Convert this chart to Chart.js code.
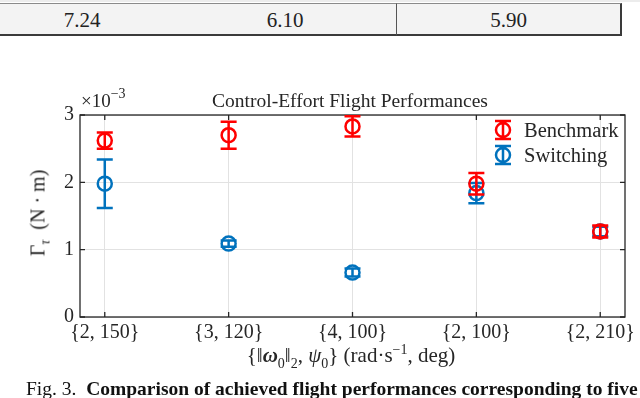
<!DOCTYPE html>
<html>
<head>
<meta charset="utf-8">
<script src="https://cdn.jsdelivr.net/npm/chart.js@4"></script>
<style>
  body { margin: 0; width: 640px; height: 398px; position: relative; overflow: hidden; background: #fff; }
  .Serif { font-family: "Liberation Serif", "DejaVu Serif", serif; color: #262626; position: absolute; white-space: nowrap; }
  .Cell { position: absolute; top: 3px; height: 30px; background: #f3f3f3; border-top: 1px solid #8a8a8a; border-bottom: 2px solid #3a3a3a; box-sizing: content-box; font-family: "Liberation Serif", serif; font-size: 21px; color: #222; text-align: center; line-height: 32px; }
  #Caption { left: 26px; top: 378px; font-size: 19.5px; color: #111; font-family: "Liberation Serif", serif; }
</style>
</head>
<body>
<div style="position:absolute;left:0;top:0;width:640px;height:2px;background:#ececec"></div>
<div class="Cell" style="left:-10px;width:184px;border-right:1px solid #555">7.24</div>
<div class="Cell" style="left:174px;width:222px;border-right:1px solid #555">6.10</div>
<div class="Cell" style="left:397px;width:223px;border-right:2px solid #3a3a3a">5.90</div>

<canvas id="PerfChart" width="640" height="398" style="position:absolute;left:0;top:0"></canvas>

<div class="Serif" style="left:350px;top:101px;font-size:19.5px;transform:translate(-50%,-50%);">Control-Effort Flight Performances</div>
<div class="Serif" style="left:81px;top:88px;font-size:19px;">×10<sup style="font-size:14px;position:relative;top:-2px">−3</sup></div>
<div class="Serif" style="left:40px;top:213px;font-size:20px;transform:translate(-50%,-50%) rotate(-90deg);">Γ<sub style="font-size:14px;font-style:italic">τ</sub>&nbsp; (N · m)</div>
<div class="Serif" style="left:351px;top:357px;font-size:21px;transform:translate(-50%,-50%);">{‖<b><i>ω</i></b><sub style="font-size:14px">0</sub>‖<sub style="font-size:14px">2</sub>, <i>ψ</i><sub style="font-size:14px">0</sub>} (rad·s<sup style="font-size:14px">−1</sup>, deg)</div>
<div class="Serif" style="left:524px;top:130px;font-size:20.5px;transform:translateY(-50%);">Benchmark</div>
<div class="Serif" style="left:524px;top:155px;font-size:20.5px;transform:translateY(-50%);">Switching</div>

<div id="Caption" class="Serif">Fig. 3.&nbsp; <b>Comparison of achieved flight performances corresponding to five</b></div>

<script>
const caseLabels = ["{2, 150}", "{3, 120}", "{4, 100}", "{2, 100}", "{2, 210}"];
const casePositions = [0, 1, 2, 3, 4];
const yTicks = [0, 1, 2, 3];

const benchmarkValues = [2.62, 2.70, 2.83, 1.98, 1.27];
const benchmarkErrors = [0.12, 0.20, 0.15, 0.16, 0.09];
const switchingValues = [1.98, 1.09, 0.66, 1.84, 1.27];
const switchingErrors = [0.36, 0.045, 0.06, 0.15, 0.07];

const benchmarkColor = "#ff0000";
const switchingColor = "#0072bd";
const axisColor = "#262626";

function toPoints(values) {
  return values.map((value, index) => ({ x: casePositions[index], y: value }));
}

const errorBars = {
  id: "errorBars",
  afterDatasetDraw(chart, args) {
    const dataset = chart.data.datasets[args.index];
    const { ctx } = chart;
    const xScale = chart.scales.x;
    const yScale = chart.scales.y;
    ctx.save();
    ctx.strokeStyle = dataset.borderColor;
    ctx.lineWidth = 2.5;
    dataset.data.forEach((point, index) => {
      const err = dataset.errors[index];
      const px = xScale.getPixelForValue(point.x);
      const top = yScale.getPixelForValue(point.y + err);
      const bottom = yScale.getPixelForValue(point.y - err);
      ctx.beginPath();
      ctx.moveTo(px, top);
      ctx.lineTo(px, bottom);
      ctx.moveTo(px - 8, top);
      ctx.lineTo(px + 8, top);
      ctx.moveTo(px - 8, bottom);
      ctx.lineTo(px + 8, bottom);
      ctx.stroke();
    });
    ctx.restore();
  },
};

// matlab style box with inward ticks
const axesBox = {
  id: "axesBox",
  beforeDatasetsDraw(chart) {
    const { ctx, chartArea } = chart;
    const { left, right, top, bottom } = chartArea;
    ctx.save();
    ctx.strokeStyle = axisColor;
    ctx.lineWidth = 1.3;
    ctx.strokeRect(left, top, right - left, bottom - top);
    ctx.beginPath();
    chart.scales.x.ticks.forEach((tick) => {
      const px = chart.scales.x.getPixelForValue(tick.value);
      ctx.moveTo(px, bottom);
      ctx.lineTo(px, bottom - 5);
      ctx.moveTo(px, top);
      ctx.lineTo(px, top + 5);
    });
    chart.scales.y.ticks.forEach((tick) => {
      const py = chart.scales.y.getPixelForValue(tick.value);
      ctx.moveTo(left, py);
      ctx.lineTo(left + 5, py);
      ctx.moveTo(right, py);
      ctx.lineTo(right - 5, py);
    });
    ctx.stroke();
    ctx.restore();
  },
  afterDraw(chart) {
    // legend glyphs
    const { ctx } = chart;
    const rows = [
      { color: benchmarkColor, y: 130 },
      { color: switchingColor, y: 155 },
    ];
    ctx.save();
    ctx.lineWidth = 2.5;
    rows.forEach((row) => {
      ctx.strokeStyle = row.color;
      ctx.beginPath();
      ctx.arc(503, row.y, 7, 0, Math.PI * 2);
      ctx.moveTo(503, row.y - 9);
      ctx.lineTo(503, row.y + 9);
      ctx.moveTo(495, row.y - 9);
      ctx.lineTo(511, row.y - 9);
      ctx.moveTo(495, row.y + 9);
      ctx.lineTo(511, row.y + 9);
      ctx.stroke();
    });
    ctx.restore();
  },
};

new Chart(document.querySelector("#PerfChart"), {
  type: "scatter",
  data: {
    datasets: [
      {
        label: "Benchmark",
        data: toPoints(benchmarkValues),
        errors: benchmarkErrors,
        borderColor: benchmarkColor,
        backgroundColor: "rgba(0,0,0,0)",
        pointRadius: 7,
        pointBorderWidth: 2.5,
      },
      {
        label: "Switching",
        data: toPoints(switchingValues),
        errors: switchingErrors,
        borderColor: switchingColor,
        backgroundColor: "rgba(0,0,0,0)",
        pointRadius: 7,
        pointBorderWidth: 2.5,
      },
    ],
  },
  options: {
    responsive: false,
    animation: false,
    layout: { padding: { left: 0, right: 15, top: 115, bottom: 0 } },
    plugins: {
      legend: { display: false },
      tooltip: { enabled: false },
    },
    scales: {
      x: {
        type: "linear",
        min: -0.2,
        max: 4.2,
        afterBuildTicks: (scale) => {
          scale.ticks = casePositions.map((value) => ({ value }));
        },
        afterFit: (scale) => {
          scale.height = 81;
        },
        grid: { color: "#e2e2e2", drawTicks: false },
        border: { display: false },
        ticks: {
          padding: 4,
          color: axisColor,
          font: { family: "Liberation Serif", size: 20 },
          maxRotation: 0,
          autoSkip: false,
          callback: (value) => caseLabels[value],
        },
      },
      y: {
        min: 0,
        max: 3,
        afterBuildTicks: (scale) => {
          scale.ticks = yTicks.map((value) => ({ value }));
        },
        afterFit: (scale) => {
          scale.width = 80;
        },
        grid: { color: "#e2e2e2", drawTicks: false },
        border: { display: false },
        ticks: {
          padding: 6,
          color: axisColor,
          font: { family: "Liberation Serif", size: 20 },
        },
      },
    },
  },
  plugins: [axesBox, errorBars],
});
</script>
</body>
</html>
